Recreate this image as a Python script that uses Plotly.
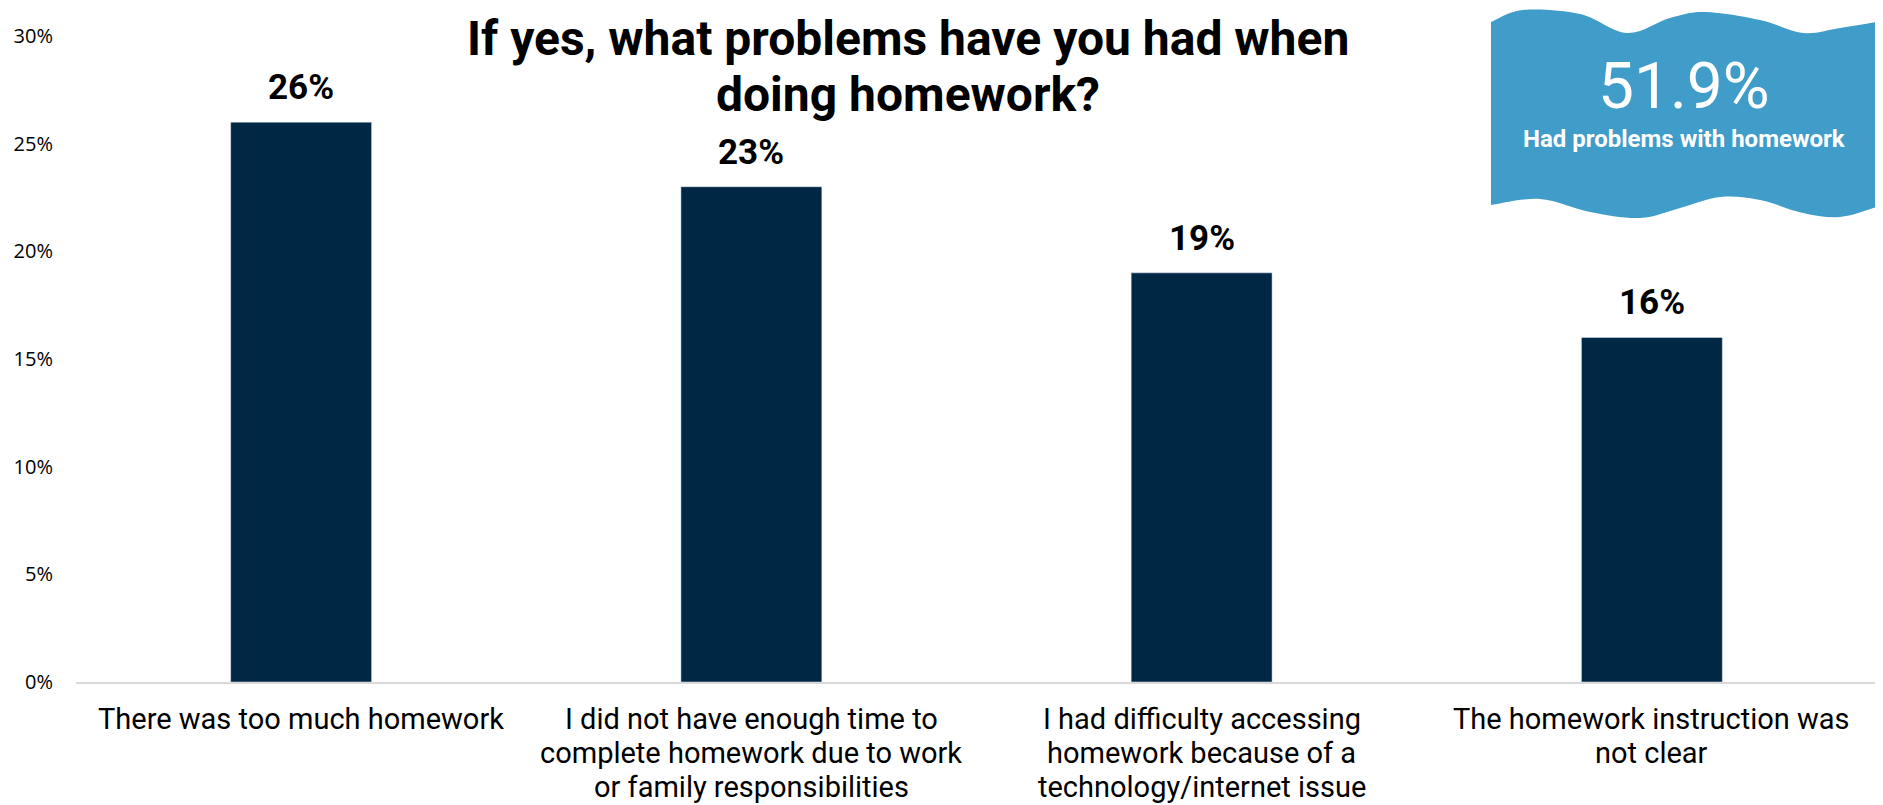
import plotly.graph_objects as go

categories = [
    "There was too much homework",
    "I did not have enough time to<br>complete homework due to work<br>or family responsibilities",
    "I had difficulty accessing<br>homework because of a<br>technology/internet issue",
    "The homework instruction was<br>not clear",
]
values = [26, 23, 19, 16]
value_labels = ["26%", "23%", "19%", "16%"]
ytick_vals = [0, 5, 10, 15, 20, 25, 30]
ytick_text = ["0%", "5%", "10%", "15%", "20%", "25%", "30%"]
title_lines = ["If yes, what problems have you had when", "doing homework?"]
banner_value = "51.9%"
banner_caption = "Had problems with homework"

OFF = 8  # body margin of the html page
W, H = 1883 - OFF, 805 - OFF
# page coords: plot left 76, right 1877, top(30%) 36, bottom(0%) 682
L = 76 - OFF
R = W - (1877 - OFF)
T = 36 - OFF
B = H - (682 - OFF)
PW, PH = W - L - R, H - T - B

def px(x):
    return (x - OFF - L) / PW

def py(y):
    return (H - B - (y - OFF)) / PH

xs = list(range(len(categories)))

fig = go.Figure()
fig.add_trace(go.Bar(
    x=xs, y=values, marker_color="#002845", width=0.313,
    hoverinfo="skip",
))

for x, v, t in zip(xs, values, value_labels):
    fig.add_annotation(x=x, y=v, text=t, showarrow=False, yanchor="bottom", yshift=12,
                       font=dict(family="Roboto", size=35, color="#000000", weight="bold"))

# category labels, one annotation per line for tight line spacing
for x, cat in zip(xs, categories):
    for j, line in enumerate(cat.split("<br>")):
        fig.add_annotation(x=x, y=py(719 + 34 * j), xref="x", yref="paper", text=line,
                           showarrow=False, xanchor="center", yanchor="middle",
                           font=dict(family="Roboto", size=29, color="#000000"))

# wavy banner path in page pixel coords
top = [(1491, 22), (1523, 10), (1580, 14), (1627, 33), (1670, 18), (1705, 12), (1760, 20), (1803, 33), (1840, 28), (1877, 22)]
bot = [(1877, 207), (1840, 217), (1803, 213), (1760, 200), (1720, 197), (1680, 208), (1640, 218), (1590, 212), (1540, 199), (1491, 205)]

# Catmull-Rom to cubic bezier
def cr_path(pts):
    s = ""
    n = len(pts)
    for i in range(n - 1):
        p0 = pts[i - 1] if i > 0 else pts[i]
        p1 = pts[i]
        p2 = pts[i + 1]
        p3 = pts[i + 2] if i + 2 < n else pts[i + 1]
        c1 = (p1[0] + (p2[0] - p0[0]) / 6, p1[1] + (p2[1] - p0[1]) / 6)
        c2 = (p2[0] - (p3[0] - p1[0]) / 6, p2[1] - (p3[1] - p1[1]) / 6)
        s += f" C {px(c1[0]):.5f},{py(c1[1]):.5f} {px(c2[0]):.5f},{py(c2[1]):.5f} {px(p2[0]):.5f},{py(p2[1]):.5f}"
    return s

path = f"M {px(top[0][0]):.5f},{py(top[0][1]):.5f}" + cr_path(top)
path += f" L {px(bot[0][0]):.5f},{py(bot[0][1]):.5f}" + cr_path(bot) + " Z"

fig.add_shape(type="path", path=path, xref="paper", yref="paper",
              fillcolor="#409CC8", line=dict(width=0), layer="above")

fig.add_annotation(x=px(1684), y=py(86), xref="paper", yref="paper", text=banner_value,
                   showarrow=False, xanchor="center", yanchor="middle",
                   font=dict(family="Roboto", size=64, color="white", weight=400))
fig.add_annotation(x=px(1684), y=py(139), xref="paper", yref="paper", text=banner_caption,
                   showarrow=False, xanchor="center", yanchor="middle",
                   font=dict(family="Roboto", size=24, color="white", weight="bold"))

for i, line in enumerate(title_lines):
    fig.add_annotation(x=px(908), y=py(38 + 56 * i), xref="paper", yref="paper", text=line,
                       showarrow=False, xanchor="center", yanchor="middle",
                       font=dict(family="Roboto", size=48, color="#000000", weight="bold"))

fig.update_layout(
    width=W, height=H,
    margin=dict(l=L, r=R, t=T, b=B),
    paper_bgcolor="white", plot_bgcolor="white",
    showlegend=False,
    xaxis=dict(
        tickmode="array", tickvals=xs, showticklabels=False,
        range=[-0.5, 3.5], showgrid=False, zeroline=False,
        showline=True, linecolor="#d9d9d9", linewidth=2,
        ticks="", automargin=False,
    ),
    yaxis=dict(
        range=[0, 30], tickmode="array", tickvals=ytick_vals, ticktext=ytick_text,
        showgrid=False, zeroline=False, showline=False, ticks="",
        ticklabelstandoff=22, automargin=False,
        tickfont=dict(family="Open Sans", size=20, color="#000000"),
    ),
)

fig.write_html("out.html")
